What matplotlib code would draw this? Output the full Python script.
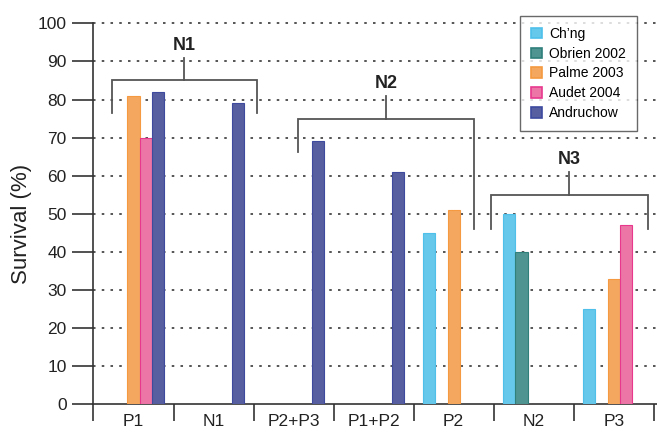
import numpy as np
import matplotlib
matplotlib.use("Agg")
import matplotlib.pyplot as plt
from matplotlib.patches import Patch

plt.rcParams['font.family'] = ['Liberation Sans', 'DejaVu Sans']

categories = ["P1", "N1", "P2+P3", "P1+P2", "P2", "N2", "P3"]
series_names = ["Ch\u2019ng", "Obrien 2002", "Palme 2003", "Audet 2004", "Andruchow"]
nan = np.nan
chng      = [nan, nan, nan, nan, 45, 50, 25]
obrien    = [nan, nan, nan, nan, nan, 40, nan]
palme     = [81, nan, nan, nan, 51, nan, 33]
audet     = [70, nan, nan, nan, nan, nan, 47]
andruchow = [82, 79, 69, 61, nan, nan, nan]
series_values = [chng, obrien, palme, audet, andruchow]

face_colors = ["#66c8ea", "#4f9491", "#f4a75f", "#ec76a6", "#585fa0"]
edge_colors = ["#4ec0ea", "#2f7f7b", "#f59a40", "#e8388e", "#3d4a9e"]

# group brackets: (label, x_left, x_right, y_bar, y_left_leg, y_right_leg, y_top)
brackets = [
    ("N1", -0.27, 1.54, 85.2, 76.5, 76.5, 91.0),
    ("N2", 2.05, 4.26, 74.9, 66.2, 46.0, 81.0),
    ("N3", 4.46, 6.43, 55.0, 46.0, 46.0, 61.0),
]

fig = plt.figure(figsize=(6.57, 4.28), dpi=100)
ax = fig.add_axes([93/657, 1 - 404.3/428, 1 - 93/657, (404.3 - 23.3)/428])

x = np.arange(len(categories))
bw = 0.154
for i, (vals, fc, ec, name) in enumerate(zip(series_values, face_colors, edge_colors, series_names)):
    ax.bar(x + (i - 2) * bw, vals, width=bw, color=fc, edgecolor=ec, linewidth=0.8,
           label=name, zorder=3)

ax.set_xlim(-0.506, 6.54)
ax.set_ylim(0, 100)
ax.set_yticks(np.arange(0, 101, 10))
ax.tick_params(axis='y', which='major', length=15, width=1.2, color='#333333',
               labelsize=12.5, pad=4, labelcolor='#222222')

# category boundaries as ticks, labels at centres
ax.set_xticks(np.arange(-0.5, 7.0, 1.0))
ax.set_xticklabels([])
ax.set_xticks(x, minor=True)
ax.set_xticklabels(categories, minor=True)
ax.tick_params(axis='x', which='major', length=12, width=1.2, color='#333333', direction='out')
ax.tick_params(axis='x', which='minor', length=0, labelsize=12.5, pad=7, labelcolor='#222222')

for s in ['top', 'right']:
    ax.spines[s].set_visible(False)
for s in ['left', 'bottom']:
    ax.spines[s].set_linewidth(1.2)
    ax.spines[s].set_color('#333333')

for yv in range(10, 101, 10):
    ax.axhline(yv, color='#555555', linewidth=1.4, linestyle=(0, (1.3, 3.2)), zorder=1,
               clip_on=False)

fig.text(22/657, 1 - 223.5/428, "Survival (%)", rotation=90, ha='center', va='center',
         fontsize=16, color='#222222')

lc = '#555555'
for label, xl, xr, yb, yll, ylr, yt in brackets:
    xc = (xl + xr) / 2
    ax.plot([xl, xl, xr, xr], [yll, yb, yb, ylr], color=lc, linewidth=1.3, zorder=4,
            solid_joinstyle='miter')
    ax.plot([xc, xc], [yb, yt], color=lc, linewidth=1.3, zorder=4)
    ax.text(xc, yt + 1.0, label, ha='center', va='bottom', fontsize=13, fontweight='bold',
            color='#222222')

handles = [Patch(facecolor=fc, edgecolor=ec, linewidth=1.2) for fc, ec in zip(face_colors, edge_colors)]
leg = ax.legend(handles, series_names, loc='upper left',
                bbox_to_anchor=((520 - 93) / 564, 1 - (15.7 - 23.3) / 381),
                fontsize=10, frameon=True, fancybox=False, edgecolor='#444444',
                handlelength=0.8, handleheight=0.8, handletextpad=0.5, labelspacing=0.42,
                borderpad=0.8, borderaxespad=0)
leg.get_frame().set_linewidth(1.0)
leg.set_zorder(5)

fig.savefig("out.png", dpi=100)
